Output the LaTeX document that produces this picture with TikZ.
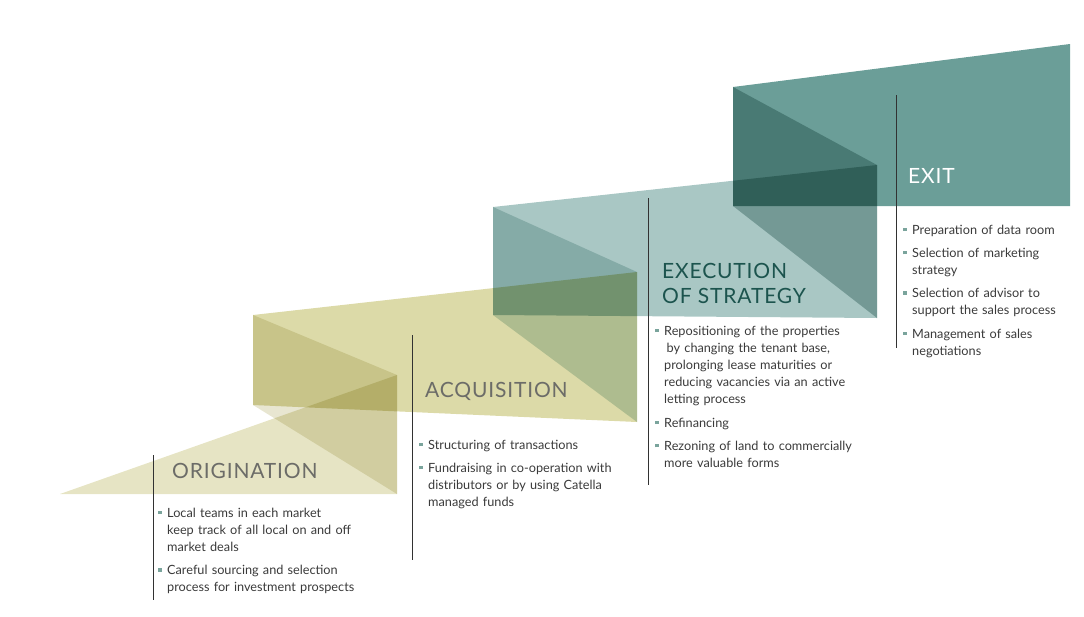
\documentclass[tikz,border=0pt]{standalone}
\usepackage{fontspec}
\setmainfont{Lato}
\definecolor{origband}{RGB}{230,228,196}
\definecolor{acqband}{RGB}{220,218,168}
\definecolor{acqfold}{RGB}{232,230,209}
\definecolor{execband}{RGB}{169,199,196}
\definecolor{execfold}{RGB}{202,220,218}
\definecolor{exitband}{RGB}{107,158,152}
\definecolor{exitfold}{RGB}{176,197,195}
\definecolor{headgray}{RGB}{108,108,104}
\definecolor{headteal}{RGB}{28,84,78}
\definecolor{bodygray}{RGB}{58,58,58}
\definecolor{bullteal}{RGB}{122,164,156}
\definecolor{linegray}{RGB}{50,50,50}
\tikzset{
  shade/.style={fill=#1, draw=none, blend mode=multiply},
  stagehead/.style={anchor=base west, inner sep=0pt, text=headgray,
    font=\fontsize{21}{25}\selectfont\addfontfeatures{LetterSpace=4}},
  stagetext/.style={anchor=base west, inner sep=0pt, text width=230pt, align=left,
    text=bodygray, font=\fontsize{12.7}{17.2}\selectfont},
  stageline/.style={draw=linegray, line width=0.8pt}
}
\newcommand\bmark{\hangindent=9pt\hangafter=1
  \makebox[9pt][l]{\textcolor{bullteal}{\rule[2.8pt]{3.6pt}{3.6pt}}}}
\newcommand\bitem{\par\noindent\bmark}
\newcommand\bgap{\setlength\parskip{6pt}}
\begin{document}
\begin{tikzpicture}[x=1pt,y=-1pt]
\useasboundingbox (0,0) rectangle (1084,616);

\fill[shade=origband] (60,494) -- (397,375) -- (397,494) -- cycle;
\fill[shade=acqband] (253,315) -- (637,272) -- (637,422) -- (253,405) -- cycle;
\fill[shade=acqfold] (253,315) -- (397,375) -- (397,494) -- (253,405) -- cycle;
\fill[shade=execband] (493,207) -- (877,165) -- (877,318) -- (493,315) -- cycle;
\fill[shade=execfold] (493,207) -- (637,272) -- (637,422) -- (493,315) -- cycle;
\fill[shade=exitband] (733,87) -- (1070,44) -- (1070,206) -- (733,206) -- cycle;
\fill[shade=exitfold] (733,87) -- (877,165) -- (877,318) -- (733,206) -- cycle;

\draw[stageline] (153,455) -- (153,600);
\draw[stageline] (412.5,335) -- (412.5,560);
\draw[stageline] (648.5,198) -- (648.5,485);
\draw[stageline] (896.5,95) -- (896.5,348);

\node[stagehead] (orig) at (172,478) {ORIGINATION};
\node[stagehead] (acq) at (425,397) {ACQUISITION};
\node[stagehead, text=headteal, align=left, anchor=north west] (exec) at (662,263.5)
  {EXECUTION\\OF STRATEGY};
\node[stagehead, text=white] (exit) at (908,183) {EXIT};

\node[stagetext] (origtext) at (158,517) {\bgap
  \bmark Local teams in each market\newline keep track of all local on and off\newline market deals
  \bitem Careful sourcing and selection\newline process for investment prospects\par};
\node[stagetext] (acqtext) at (419,449) {\bgap
  \bmark Structuring of transactions
  \bitem Fundraising in co-operation with\newline distributors or by using Catella\newline managed funds\par};
\node[stagetext] (exectext) at (655,335) {\bgap
  \bmark Repositioning of the properties\newline\hspace*{2.5pt}by changing the tenant base,\newline
    prolonging lease maturities or\newline reducing vacancies via an active\newline letting process
  \bitem Refinancing
  \bitem Rezoning of land to commercially\newline more valuable forms\par};
\node[stagetext] (exittext) at (903,234) {\bgap
  \bmark Preparation of data room
  \bitem Selection of marketing\newline strategy
  \bitem Selection of advisor to\newline support the sales process
  \bitem Management of sales\newline negotiations\par};
\end{tikzpicture}
\end{document}
